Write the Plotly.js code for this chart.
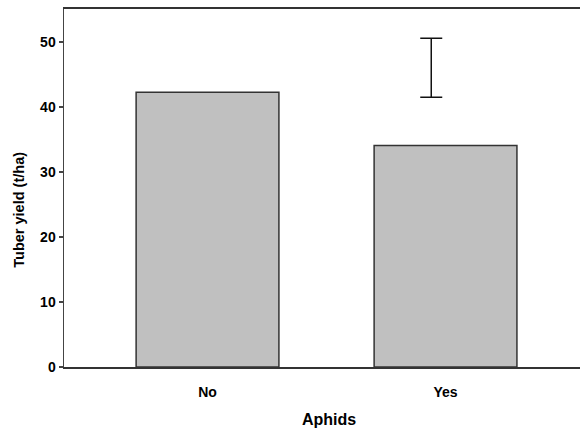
<!DOCTYPE html>
<html>
<head>
<meta charset="utf-8">
<script src="https://cdn.plot.ly/plotly-3.0.1.min.js"></script>
<style>html,body{margin:0;padding:0;background:#fff;}#chart{width:580px;height:430px;}</style>
</head>
<body>
<div id="chart"></div>
<script>
var categories = ["No", "Yes"];
var yieldValues = [42.3, 34.1];
var lsdX = [0.94];
var lsdCenter = [46.05];
var lsdHalf = [4.55];
var yTicks = [0, 10, 20, 30, 40, 50];
var xTitle = "Aphids";
var yTitle = "Tuber yield (t/ha)";

var font = "Liberation Sans, Arial, sans-serif";

var bars = {
  type: "bar",
  x: [0, 1],
  y: yieldValues,
  width: 0.6,
  marker: {color: "#c0c0c0", line: {color: "#333333", width: 1.5}},
  hoverinfo: "none"
};
var lsd = {
  type: "scatter",
  mode: "markers",
  x: lsdX,
  y: lsdCenter,
  marker: {size: 0.1, color: "rgba(0,0,0,0)"},
  error_y: {type: "data", array: lsdHalf, visible: true, color: "#111111", thickness: 1.5, width: 11},
  hoverinfo: "none"
};

var layout = {
  width: 580, height: 430,
  margin: {l: 64, r: 0, t: 9, b: 63},
  paper_bgcolor: "#ffffff",
  plot_bgcolor: "#ffffff",
  showlegend: false,
  font: {family: font, color: "#000"},
  xaxis: {
    range: [-0.603, 1.565],
    tickvals: [0, 1],
    ticktext: categories,
    showgrid: false, zeroline: false,
    showline: true, linecolor: "#333333", linewidth: 2, mirror: true,
    ticks: "outside", ticklen: 11, tickcolor: "rgba(0,0,0,0)",
    tickfont: {family: font, size: 14, color: "#000", weight: "bold"}
  },
  yaxis: {
    range: [0, 55.1],
    tickvals: yTicks,
    showgrid: false, zeroline: false,
    showline: true, linecolor: "#444444", linewidth: 1.5,
    ticks: "outside", ticklen: 4, tickwidth: 1.5, tickcolor: "#444444",
    tickfont: {family: font, size: 14, color: "#000", weight: "bold"}
  },
  annotations: [
    {text: "<b>" + xTitle + "</b>", xref: "paper", yref: "paper", x: 0.5136, y: -0.148,
     xanchor: "center", yanchor: "middle", showarrow: false,
     font: {family: font, size: 16, color: "#000"}},
    {text: "<b>" + yTitle + "</b>", xref: "paper", yref: "paper", x: -0.0878, y: 0.4385,
     xanchor: "center", yanchor: "middle", showarrow: false, textangle: -90,
     font: {family: font, size: 14.5, color: "#000"}}
  ]
};

Plotly.newPlot("chart", [bars, lsd], layout, {displayModeBar: false, staticPlot: true});
</script>
</body>
</html>
